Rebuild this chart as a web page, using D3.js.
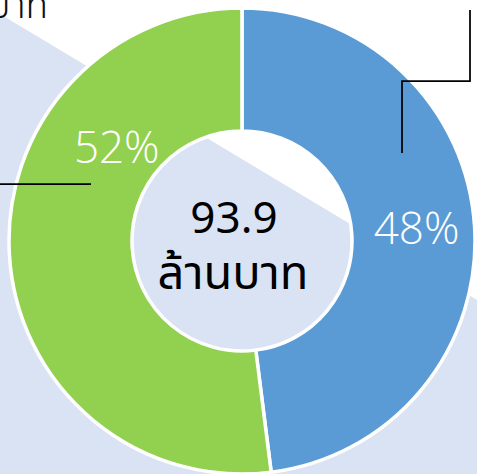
<!DOCTYPE html>
<html>
<head>
<meta charset="utf-8">
<script src="https://cdn.jsdelivr.net/npm/d3@7"></script>
<style>
  body { margin: 0; background: #fff; }
  svg { display: block; }
</style>
</head>
<body>
<div id="chart"></div>
<script>
// DONUT CHART

// data
const categories = ["B", "A"];
const shares = [48, 52];
const shareLabels = ["48%", "52%"];
const totalValue = "93.9";
const totalUnit = "ล้านบาท";

const COLOR = {
  _BLUE: "#5B9BD5",
  _GREEN: "#92D050",
  _BACK: "#DAE3F3",
};

const FONT = "'Noto Sans', 'Noto Sans Thai', sans-serif";

const width = 477;
const height = 474;
const cx = 242;
const cy = 241;

const svg = d3
  .select("#chart")
  .append("svg")
  .attr("width", width)
  .attr("height", height);

// background band behind the donut
svg
  .append("path")
  .attr("d", "M0,14 L477,300 L477,474 L0,474 Z")
  .attr("fill", COLOR._BACK);

// clipped caption at top-left
svg
  .append("text")
  .attr("x", 48)
  .attr("y", 18)
  .attr("text-anchor", "end")
  .style("font-family", FONT)
  .style("font-size", "37px")
  .style("font-weight", 300)
  .attr("fill", "#111")
  .text("ล้านบาท");

const g = svg.append("g").attr("transform", `translate(${cx},${cy})`);

const pie = d3
  .pie()
  .sort(null)
  .value((d) => d);

const arc = d3.arc().innerRadius(110).outerRadius(233);

g.selectAll("path.slice")
  .data(pie(shares))
  .enter()
  .append("path")
  .attr("class", "slice")
  .attr("d", arc)
  .attr("fill", (d, i) => (i == 0 ? COLOR._BLUE : COLOR._GREEN))
  .attr("stroke", "#fff")
  .attr("stroke-width", 3.5)
  .attr("stroke-linejoin", "round");

// percentage labels (placed by hand, not at the centroid)
const labelPos = [
  { angle: 86, r: 175 },
  { angle: 306.6, r: 156 },
];
g.selectAll("text.pct")
  .data(shareLabels)
  .enter()
  .append("text")
  .attr("class", "pct")
  .attr("x", (d, i) => labelPos[i].r * Math.sin((labelPos[i].angle * Math.PI) / 180))
  .attr("y", (d, i) => -labelPos[i].r * Math.cos((labelPos[i].angle * Math.PI) / 180) + 15)
  .attr("text-anchor", "middle")
  .style("font-family", "'Open Sans', sans-serif")
  .style("font-size", "44px")
  .style("font-weight", 300)
  .attr("fill", "#fff")
  .text((d) => d);

// total in the hole
g.append("text")
  .attr("x", -8)
  .attr("y", -8)
  .attr("text-anchor", "middle")
  .style("font-family", FONT)
  .style("font-size", "44px")
  .attr("fill", "#000")
  .text(totalValue);

g.append("text")
  .attr("x", -9)
  .attr("y", 48)
  .attr("text-anchor", "middle")
  .style("font-family", FONT)
  .style("font-size", "47px")
  .attr("fill", "#000")
  .text(totalUnit);

// leader lines
const lines = svg.append("g").attr("fill", "none").attr("stroke", "#000").attr("stroke-width", 1.75);
lines.append("path").attr("d", "M0,184 H91");
lines.append("path").attr("d", "M470,10 V81 H402 V153");
</script>
</body>
</html>
